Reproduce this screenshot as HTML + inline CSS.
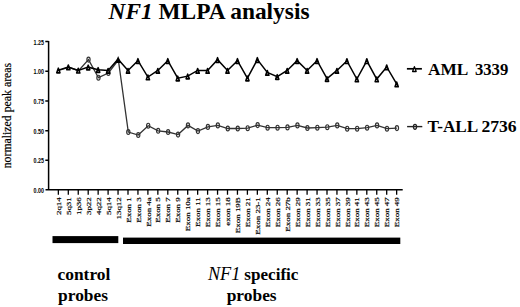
<!DOCTYPE html>
<html><head><meta charset="utf-8"><style>
html,body{margin:0;padding:0;background:#fff;}
body{width:520px;height:307px;overflow:hidden;}
svg{display:block;}
.yt{font-family:"Liberation Sans",sans-serif;font-size:8px;font-weight:bold;fill:#000;}
.xt{font-family:"Liberation Serif",serif;font-size:7px;fill:#000;stroke:#000;stroke-width:0.18px;}
.lg{font-family:"Liberation Serif",serif;font-size:16px;font-weight:bold;fill:#000;}
.bl{font-family:"Liberation Serif",serif;font-size:17px;font-weight:bold;fill:#000;}
.yl{font-family:"Liberation Serif",serif;font-size:11.8px;fill:#000;stroke:#000;stroke-width:0.2px;}
.ti{font-family:"Liberation Serif",serif;font-size:23.4px;font-weight:bold;fill:#000;}
</style></head><body>
<svg width="520" height="307" viewBox="0 0 520 307">
<polyline points="58.65,70.50 68.60,67.30 78.55,70.70 88.50,59.60 98.45,77.70 108.40,73.00 118.35,60.00 128.30,132.00 138.25,135.00 148.20,125.70 158.15,130.80 168.10,132.00 178.05,134.60 188.00,125.40 197.95,131.10 207.90,126.90 217.85,125.40 227.80,128.50 237.75,128.50 247.70,128.20 257.65,125.10 267.60,127.70 277.55,127.70 287.50,127.40 297.45,125.40 307.40,128.00 317.35,127.70 327.30,127.20 337.25,125.40 347.20,128.70 357.15,128.70 367.10,127.70 377.05,125.40 387.00,128.70 396.95,128.10" fill="none" stroke="#333" stroke-width="1.3"/>
<g fill="none" stroke="#333" stroke-width="1.2"><ellipse cx="88.50" cy="59.60" rx="1.6" ry="2.45"/><ellipse cx="98.45" cy="77.70" rx="1.6" ry="2.45"/><ellipse cx="108.40" cy="73.00" rx="1.6" ry="2.45"/><ellipse cx="128.30" cy="132.00" rx="1.6" ry="2.45"/><ellipse cx="138.25" cy="135.00" rx="1.6" ry="2.45"/><ellipse cx="148.20" cy="125.70" rx="1.6" ry="2.45"/><ellipse cx="158.15" cy="130.80" rx="1.6" ry="2.45"/><ellipse cx="168.10" cy="132.00" rx="1.6" ry="2.45"/><ellipse cx="178.05" cy="134.60" rx="1.6" ry="2.45"/><ellipse cx="188.00" cy="125.40" rx="1.6" ry="2.45"/><ellipse cx="197.95" cy="131.10" rx="1.6" ry="2.45"/><ellipse cx="207.90" cy="126.90" rx="1.6" ry="2.45"/><ellipse cx="217.85" cy="125.40" rx="1.6" ry="2.45"/><ellipse cx="227.80" cy="128.50" rx="1.6" ry="2.45"/><ellipse cx="237.75" cy="128.50" rx="1.6" ry="2.45"/><ellipse cx="247.70" cy="128.20" rx="1.6" ry="2.45"/><ellipse cx="257.65" cy="125.10" rx="1.6" ry="2.45"/><ellipse cx="267.60" cy="127.70" rx="1.6" ry="2.45"/><ellipse cx="277.55" cy="127.70" rx="1.6" ry="2.45"/><ellipse cx="287.50" cy="127.40" rx="1.6" ry="2.45"/><ellipse cx="297.45" cy="125.40" rx="1.6" ry="2.45"/><ellipse cx="307.40" cy="128.00" rx="1.6" ry="2.45"/><ellipse cx="317.35" cy="127.70" rx="1.6" ry="2.45"/><ellipse cx="327.30" cy="127.20" rx="1.6" ry="2.45"/><ellipse cx="337.25" cy="125.40" rx="1.6" ry="2.45"/><ellipse cx="347.20" cy="128.70" rx="1.6" ry="2.45"/><ellipse cx="357.15" cy="128.70" rx="1.6" ry="2.45"/><ellipse cx="367.10" cy="127.70" rx="1.6" ry="2.45"/><ellipse cx="377.05" cy="125.40" rx="1.6" ry="2.45"/><ellipse cx="387.00" cy="128.70" rx="1.6" ry="2.45"/><ellipse cx="396.95" cy="128.10" rx="1.6" ry="2.45"/></g>
<polyline points="58.35,70.15 68.30,66.95 78.25,70.35 88.20,67.15 98.15,69.65 108.10,70.45 118.05,59.15 128.00,70.45 137.95,60.65 147.90,77.05 157.85,70.45 167.80,60.65 177.75,78.15 187.70,76.15 197.65,70.45 207.60,70.45 217.55,59.65 227.50,70.45 237.45,60.65 247.40,78.15 257.35,59.65 267.30,72.45 277.25,76.65 287.20,70.45 297.15,60.65 307.10,70.45 317.05,60.65 327.00,78.65 336.95,70.45 346.90,60.85 356.85,79.05 366.80,60.85 376.75,79.05 386.70,66.95 396.65,83.95" fill="none" stroke="#000" stroke-width="1.5" stroke-linejoin="miter"/>
<g fill="#fff" stroke="#000" stroke-width="1.6" stroke-linejoin="round"><path d="M58.35 68.15L59.95 72.85L56.75 72.85Z"/><path d="M68.30 64.95L69.90 69.65L66.70 69.65Z"/><path d="M78.25 68.35L79.85 73.05L76.65 73.05Z"/><path d="M88.20 65.15L89.80 69.85L86.60 69.85Z"/><path d="M98.15 67.65L99.75 72.35L96.55 72.35Z"/><path d="M108.10 68.45L109.70 73.15L106.50 73.15Z"/><path d="M128.00 68.45L129.60 73.15L126.40 73.15Z"/><path d="M137.95 58.65L139.55 63.35L136.35 63.35Z"/><path d="M147.90 75.05L149.50 79.75L146.30 79.75Z"/><path d="M157.85 68.45L159.45 73.15L156.25 73.15Z"/><path d="M167.80 58.65L169.40 63.35L166.20 63.35Z"/><path d="M177.75 76.15L179.35 80.85L176.15 80.85Z"/><path d="M187.70 74.15L189.30 78.85L186.10 78.85Z"/><path d="M197.65 68.45L199.25 73.15L196.05 73.15Z"/><path d="M207.60 68.45L209.20 73.15L206.00 73.15Z"/><path d="M217.55 57.65L219.15 62.35L215.95 62.35Z"/><path d="M227.50 68.45L229.10 73.15L225.90 73.15Z"/><path d="M237.45 58.65L239.05 63.35L235.85 63.35Z"/><path d="M247.40 76.15L249.00 80.85L245.80 80.85Z"/><path d="M257.35 57.65L258.95 62.35L255.75 62.35Z"/><path d="M267.30 70.45L268.90 75.15L265.70 75.15Z"/><path d="M277.25 74.65L278.85 79.35L275.65 79.35Z"/><path d="M287.20 68.45L288.80 73.15L285.60 73.15Z"/><path d="M297.15 58.65L298.75 63.35L295.55 63.35Z"/><path d="M307.10 68.45L308.70 73.15L305.50 73.15Z"/><path d="M317.05 58.65L318.65 63.35L315.45 63.35Z"/><path d="M327.00 76.65L328.60 81.35L325.40 81.35Z"/><path d="M336.95 68.45L338.55 73.15L335.35 73.15Z"/><path d="M346.90 58.85L348.50 63.55L345.30 63.55Z"/><path d="M356.85 77.05L358.45 81.75L355.25 81.75Z"/><path d="M366.80 58.85L368.40 63.55L365.20 63.55Z"/><path d="M376.75 77.05L378.35 81.75L375.15 81.75Z"/><path d="M386.70 64.95L388.30 69.65L385.10 69.65Z"/><path d="M396.65 81.95L398.25 86.65L395.05 86.65Z"/></g>
<path d="M118.15 55.9L121.15 63L115.15 63Z" fill="#000"/>
<path d="M48.6 40.9V189.8M45.3 41.6H48.6M45.3 71.2H48.6M45.3 101H48.6M45.3 130.7H48.6M45.3 160.3H48.6M45.5 189.8H402.7" stroke="#000" stroke-width="1.5" fill="none"/>
<path d="M58.35 189.8V194.8M68.30 189.8V194.8M78.25 189.8V194.8M88.20 189.8V194.8M98.15 189.8V194.8M108.10 189.8V194.8M118.05 189.8V194.8M128.00 189.8V194.8M137.95 189.8V194.8M147.90 189.8V194.8M157.85 189.8V194.8M167.80 189.8V194.8M177.75 189.8V194.8M187.70 189.8V194.8M197.65 189.8V194.8M207.60 189.8V194.8M217.55 189.8V194.8M227.50 189.8V194.8M237.45 189.8V194.8M247.40 189.8V194.8M257.35 189.8V194.8M267.30 189.8V194.8M277.25 189.8V194.8M287.20 189.8V194.8M297.15 189.8V194.8M307.10 189.8V194.8M317.05 189.8V194.8M327.00 189.8V194.8M336.95 189.8V194.8M346.90 189.8V194.8M356.85 189.8V194.8M366.80 189.8V194.8M376.75 189.8V194.8M386.70 189.8V194.8M396.65 189.8V194.8" stroke="#000" stroke-width="1.3" fill="none"/>
<text x="33.6" y="44.6" class="yt" textLength="10.4" lengthAdjust="spacingAndGlyphs">1.25</text>
<text x="33.6" y="74.2" class="yt" textLength="10.4" lengthAdjust="spacingAndGlyphs">1.00</text>
<text x="33.6" y="104.0" class="yt" textLength="10.4" lengthAdjust="spacingAndGlyphs">0.75</text>
<text x="33.6" y="133.7" class="yt" textLength="10.4" lengthAdjust="spacingAndGlyphs">0.50</text>
<text x="33.6" y="163.3" class="yt" textLength="10.4" lengthAdjust="spacingAndGlyphs">0.25</text>
<text x="33.6" y="192.8" class="yt" textLength="10.4" lengthAdjust="spacingAndGlyphs">0.00</text>
<text class="xt" transform="translate(60.95,197.2) rotate(-90)" text-anchor="end" textLength="17.90" lengthAdjust="spacingAndGlyphs">2q14</text>
<text class="xt" transform="translate(70.90,197.2) rotate(-90)" text-anchor="end" textLength="17.90" lengthAdjust="spacingAndGlyphs">5q31</text>
<text class="xt" transform="translate(80.85,197.2) rotate(-90)" text-anchor="end" textLength="17.90" lengthAdjust="spacingAndGlyphs">1p36</text>
<text class="xt" transform="translate(90.80,197.2) rotate(-90)" text-anchor="end" textLength="17.90" lengthAdjust="spacingAndGlyphs">3p22</text>
<text class="xt" transform="translate(100.75,197.2) rotate(-90)" text-anchor="end" textLength="17.90" lengthAdjust="spacingAndGlyphs">4q22</text>
<text class="xt" transform="translate(110.70,197.2) rotate(-90)" text-anchor="end" textLength="17.90" lengthAdjust="spacingAndGlyphs">5q14</text>
<text class="xt" transform="translate(120.65,197.2) rotate(-90)" text-anchor="end" textLength="22.38" lengthAdjust="spacingAndGlyphs">13q12</text>
<text class="xt" transform="translate(130.60,197.2) rotate(-90)" text-anchor="end" textLength="25.60" lengthAdjust="spacingAndGlyphs">Exon 1</text>
<text class="xt" transform="translate(140.55,197.2) rotate(-90)" text-anchor="end" textLength="25.60" lengthAdjust="spacingAndGlyphs">Exon 3</text>
<text class="xt" transform="translate(150.50,197.2) rotate(-90)" text-anchor="end" textLength="29.58" lengthAdjust="spacingAndGlyphs">Exon 4a</text>
<text class="xt" transform="translate(160.45,197.2) rotate(-90)" text-anchor="end" textLength="25.60" lengthAdjust="spacingAndGlyphs">Exon 5</text>
<text class="xt" transform="translate(170.40,197.2) rotate(-90)" text-anchor="end" textLength="25.60" lengthAdjust="spacingAndGlyphs">Exon 7</text>
<text class="xt" transform="translate(180.35,197.2) rotate(-90)" text-anchor="end" textLength="25.60" lengthAdjust="spacingAndGlyphs">Exon 9</text>
<text class="xt" transform="translate(190.30,197.2) rotate(-90)" text-anchor="end" textLength="34.05" lengthAdjust="spacingAndGlyphs">Exon 10a</text>
<text class="xt" transform="translate(200.25,197.2) rotate(-90)" text-anchor="end" textLength="29.75" lengthAdjust="spacingAndGlyphs">Exon 11</text>
<text class="xt" transform="translate(210.20,197.2) rotate(-90)" text-anchor="end" textLength="30.08" lengthAdjust="spacingAndGlyphs">Exon 13</text>
<text class="xt" transform="translate(220.15,197.2) rotate(-90)" text-anchor="end" textLength="30.08" lengthAdjust="spacingAndGlyphs">Exon 15</text>
<text class="xt" transform="translate(230.10,197.2) rotate(-90)" text-anchor="end" textLength="28.58" lengthAdjust="spacingAndGlyphs">exon 18</text>
<text class="xt" transform="translate(240.05,197.2) rotate(-90)" text-anchor="end" textLength="36.05" lengthAdjust="spacingAndGlyphs">Exon 19B</text>
<text class="xt" transform="translate(250.00,197.2) rotate(-90)" text-anchor="end" textLength="30.08" lengthAdjust="spacingAndGlyphs">Exon 21</text>
<text class="xt" transform="translate(259.95,197.2) rotate(-90)" text-anchor="end" textLength="37.54" lengthAdjust="spacingAndGlyphs">Exon 23-1</text>
<text class="xt" transform="translate(269.90,197.2) rotate(-90)" text-anchor="end" textLength="30.08" lengthAdjust="spacingAndGlyphs">Exon 24</text>
<text class="xt" transform="translate(279.85,197.2) rotate(-90)" text-anchor="end" textLength="30.08" lengthAdjust="spacingAndGlyphs">Exon 26</text>
<text class="xt" transform="translate(289.80,197.2) rotate(-90)" text-anchor="end" textLength="34.55" lengthAdjust="spacingAndGlyphs">Exon 27b</text>
<text class="xt" transform="translate(299.75,197.2) rotate(-90)" text-anchor="end" textLength="30.08" lengthAdjust="spacingAndGlyphs">Exon 29</text>
<text class="xt" transform="translate(309.70,197.2) rotate(-90)" text-anchor="end" textLength="30.08" lengthAdjust="spacingAndGlyphs">Exon 31</text>
<text class="xt" transform="translate(319.65,197.2) rotate(-90)" text-anchor="end" textLength="30.08" lengthAdjust="spacingAndGlyphs">Exon 33</text>
<text class="xt" transform="translate(329.60,197.2) rotate(-90)" text-anchor="end" textLength="30.08" lengthAdjust="spacingAndGlyphs">Exon 35</text>
<text class="xt" transform="translate(339.55,197.2) rotate(-90)" text-anchor="end" textLength="30.08" lengthAdjust="spacingAndGlyphs">Exon 37</text>
<text class="xt" transform="translate(349.50,197.2) rotate(-90)" text-anchor="end" textLength="30.08" lengthAdjust="spacingAndGlyphs">Exon 39</text>
<text class="xt" transform="translate(359.45,197.2) rotate(-90)" text-anchor="end" textLength="30.08" lengthAdjust="spacingAndGlyphs">Exon 41</text>
<text class="xt" transform="translate(369.40,197.2) rotate(-90)" text-anchor="end" textLength="30.08" lengthAdjust="spacingAndGlyphs">Exon 43</text>
<text class="xt" transform="translate(379.35,197.2) rotate(-90)" text-anchor="end" textLength="30.08" lengthAdjust="spacingAndGlyphs">Exon 45</text>
<text class="xt" transform="translate(389.30,197.2) rotate(-90)" text-anchor="end" textLength="30.08" lengthAdjust="spacingAndGlyphs">Exon 47</text>
<text class="xt" transform="translate(399.25,197.2) rotate(-90)" text-anchor="end" textLength="30.08" lengthAdjust="spacingAndGlyphs">Exon 49</text>
<path d="M406.9 68.8H421.9" stroke="#000" stroke-width="1.7"/>
<path d="M414.4 66.6L416.2 71.5L412.6 71.5Z" fill="#fff" stroke="#000" stroke-width="1.3" stroke-linejoin="round"/>
<path d="M407.1 126.6H422.3" stroke="#222" stroke-width="1.4"/>
<ellipse cx="415" cy="126.8" rx="1.6" ry="2.45" fill="none" stroke="#222" stroke-width="1.25"/>
<text x="428.1" y="74.5" class="lg" textLength="40.3" lengthAdjust="spacingAndGlyphs">AML</text>
<text x="474.9" y="74.5" class="lg" textLength="33.4" lengthAdjust="spacingAndGlyphs">3339</text>
<text x="427.4" y="131.8" class="lg" textLength="50.8" lengthAdjust="spacingAndGlyphs">T-ALL</text>
<text x="481.4" y="131.8" class="lg" textLength="35.2" lengthAdjust="spacingAndGlyphs">2736</text>
<rect x="52.5" y="236.1" width="65.8" height="7" fill="#000"/>
<rect x="123" y="237.6" width="277.3" height="6.4" fill="#000"/>
<text x="57.5" y="279.9" class="bl" style="font-size:17.4px">control</text>
<text x="58.1" y="300.8" class="bl" style="font-size:17.4px">probes</text>
<text x="207.9" y="279.6" class="bl" style="font-size:18.3px;font-style:italic;font-weight:normal">NF1</text>
<text x="244.3" y="279.8" class="bl" style="font-size:17.1px">specific</text>
<text x="226.7" y="300.8" class="bl" style="font-size:17.4px">probes</text>
<text class="yl" transform="translate(11.2,115.6) rotate(-90)" text-anchor="middle">normalized peak areas</text>
<text x="209" y="18.7" class="ti" text-anchor="middle"><tspan font-style="italic">NF1</tspan> MLPA analysis</text>
</svg>
</body></html>
